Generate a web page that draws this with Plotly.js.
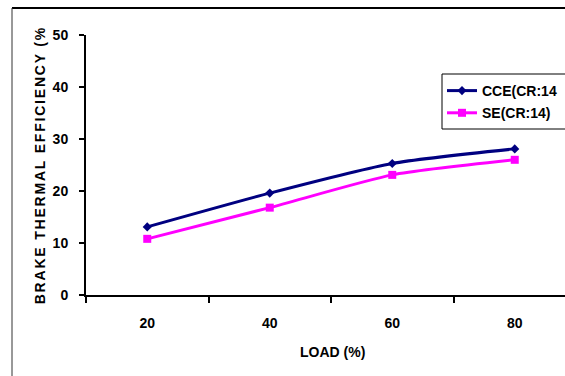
<!DOCTYPE html>
<html>
<head>
<meta charset="utf-8">
<script src="https://cdn.plot.ly/plotly-3.0.1.min.js"></script>
<style>
  html, body { margin: 0; padding: 0; background: #fff; overflow: hidden; }
  #chart { width: 600px; height: 376px; }
  .annotation[data-index="1"] text { letter-spacing: 1.8px; }
</style>
</head>
<body>
<div id="chart"></div>
<script>
// Data
const loads = ["20", "40", "60", "80"];
const cceValues = [13.1, 19.6, 25.3, 28.1];
const seValues = [10.8, 16.8, 23.1, 26.0];
const cceName = "CCE(CR:14";
const seName = "SE(CR:14)";
const xTitle = "LOAD (%)";
const yTitle = "BRAKE THERMAL EFFICIENCY (%";

const FONT = "Liberation Sans, Arial, sans-serif";

const traces = [
  {
    x: loads, y: cceValues, name: cceName, type: "scatter", mode: "lines+markers",
    legendgroup: "a",
    line: { color: "#000080", width: 3, shape: "spline", smoothing: 0.6 },
    marker: { symbol: "diamond", size: 7, color: "#000080" }
  },
  {
    x: loads, y: seValues, name: seName, type: "scatter", mode: "lines+markers",
    legendgroup: "b",
    line: { color: "#FF00FF", width: 3, shape: "spline", smoothing: 0.6 },
    marker: { symbol: "square", size: 8, color: "#FF00FF" }
  }
];

const px = v => (v - 86) / 490;
const py = v => (295 - v) / 260;

const layout = {
  width: 600, height: 376,
  margin: { l: 86, r: 24, t: 35, b: 81, autoexpand: false },
  paper_bgcolor: "#fff", plot_bgcolor: "#fff",
  font: { family: FONT, color: "#000" },
  showlegend: true,
  legend: {
    x: px(442), y: py(75), xanchor: "left", yanchor: "top",
    bgcolor: "rgba(0,0,0,0)", borderwidth: 0,
    font: { family: FONT, size: 14, color: "#000", weight: "bold" },
    itemwidth: 30, traceorder: "grouped", tracegroupgap: 1
  },
  xaxis: {
    type: "category", range: [-0.5, 3.5],
    showline: true, linecolor: "#000", linewidth: 2,
    ticks: "outside", ticklen: 6, tickwidth: 2, tickcolor: "#000",
    tickson: "boundaries",
    showgrid: false, zeroline: false,
    tickfont: { family: FONT, size: 14, color: "#000", weight: "bold" },
    ticklabelstandoff: 14
  },
  yaxis: {
    range: [0, 50], dtick: 10,
    showline: true, linecolor: "#000", linewidth: 2,
    ticks: "outside", ticklen: 5, tickwidth: 2, tickcolor: "#000",
    showgrid: false, zeroline: false,
    tickfont: { family: FONT, size: 14, color: "#000", weight: "bold" },
    ticklabelstandoff: 8
  },
  annotations: [
    { text: xTitle, xref: "paper", yref: "paper",
      x: px(332), y: py(352), xanchor: "center", yanchor: "middle",
      showarrow: false, font: { family: FONT, size: 14, color: "#000", weight: "bold" } },
    { text: yTitle, xref: "paper", yref: "paper", textangle: -90,
      x: px(40), y: py(165), xanchor: "center", yanchor: "middle",
      showarrow: false, font: { family: FONT, size: 14, color: "#000", weight: "bold" } }
  ],
  shapes: [
    { type: "line", xref: "paper", yref: "paper",
      x0: px(12), x1: px(620), y0: py(8), y1: py(8),
      line: { color: "#000", width: 2 } },
    { type: "line", xref: "paper", yref: "paper",
      x0: px(12), x1: px(12), y0: py(8), y1: py(400),
      line: { color: "#333", width: 1 } },
    { type: "rect", xref: "paper", yref: "paper", layer: "above",
      x0: px(442), x1: px(620), y0: py(74), y1: py(129),
      fillcolor: "#fff", line: { color: "#000", width: 1 } }
  ]
};

Plotly.newPlot("chart", traces, layout, { displayModeBar: false, staticPlot: true });
</script>
</body>
</html>
